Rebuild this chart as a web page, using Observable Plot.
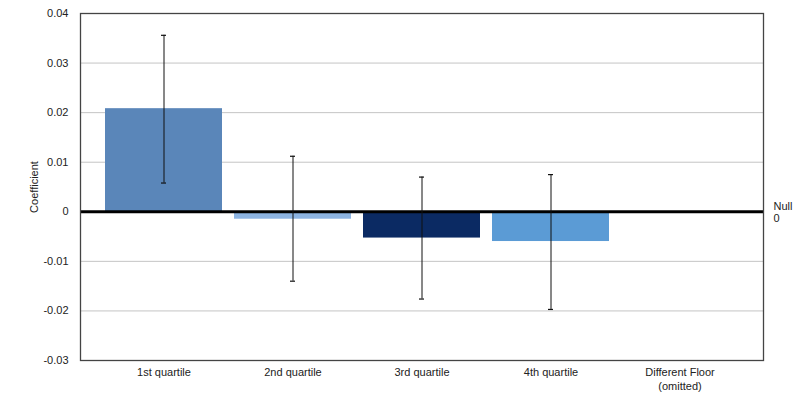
<!DOCTYPE html>
<html>
<head>
<meta charset="utf-8">
<script src="https://cdn.jsdelivr.net/npm/d3@7"></script>
<script src="https://cdn.jsdelivr.net/npm/@observablehq/plot@0.6"></script>
<style>
  html, body { margin: 0; padding: 0; background: #fff; }
  #chart svg { display: block; }
</style>
</head>
<body>
<div id="chart"></div>
<script>
const categories = ["1st quartile", "2nd quartile", "3rd quartile", "4th quartile", "Different Floor\n(omitted)"];
const coefficients = [0.0208, -0.0015, -0.0053, -0.0060, null];
const lowerBounds = [0.0058, -0.0140, -0.0176, -0.0197, null];
const upperBounds = [0.0356, 0.0112, 0.0070, 0.0075, null];
const barColors = ["#5a86b9", "#8db4e2", "#0b2a63", "#5b9bd5", "#ffffff"];
const yTicks = [0.04, 0.03, 0.02, 0.01, 0, -0.01, -0.02, -0.03];

const rows = categories.map((c, i) => ({
  cat: c, coef: coefficients[i], lo: lowerBounds[i], hi: upperBounds[i], color: barColors[i]
}));
const withData = rows.filter(d => d.coef != null);

const chart = Plot.plot({
  width: 800,
  height: 399,
  marginLeft: 80,
  marginRight: 37,
  marginTop: 13,
  marginBottom: 39,
  style: { fontFamily: "'Liberation Sans', Arial, sans-serif", fontSize: "11px", color: "#222", background: "#fff" },
  x: { domain: categories, insetLeft: 17, insetRight: 17, paddingInner: 0.09, paddingOuter: 0.045, label: null },
  y: { domain: [-0.03, 0.04], label: null },
  color: { type: "identity" },
  marks: [
    Plot.gridY(yTicks, { stroke: "#c4c4c4", strokeOpacity: 1, strokeWidth: 1 }),
    Plot.barY(withData, { x: "cat", y: "coef", fill: "color" }),
    Plot.ruleY([0], { stroke: "#000", strokeWidth: 3 }),
    Plot.ruleX(withData, { x: "cat", y1: "lo", y2: "hi", stroke: "#111", strokeWidth: 1 }),
    Plot.tickY(withData, { x: "cat", y: "lo", stroke: "#111", strokeWidth: 1.2, insetLeft: 56, insetRight: 56 }),
    Plot.tickY(withData, { x: "cat", y: "hi", stroke: "#111", strokeWidth: 1.2, insetLeft: 56, insetRight: 56 }),
    Plot.frame({ stroke: "#444", strokeWidth: 1.3 }),
    Plot.axisY(yTicks, { tickFormat: d => String(d), tickSize: 0, tickPadding: 12, label: "Coefficient", labelAnchor: "center", labelArrow: "none", labelOffset: 50, fill: "#222" }),
    Plot.axisX({ tickSize: 0, tickPadding: 6, fill: "#222", label: null, lineHeight: 1.25 }),
    Plot.text(["Null\n0"], { frameAnchor: "right", y: () => 0, dx: 10, textAnchor: "start", lineHeight: 1.15, fill: "#222" })
  ]
});
document.getElementById("chart").appendChild(chart);
</script>
</body>
</html>
